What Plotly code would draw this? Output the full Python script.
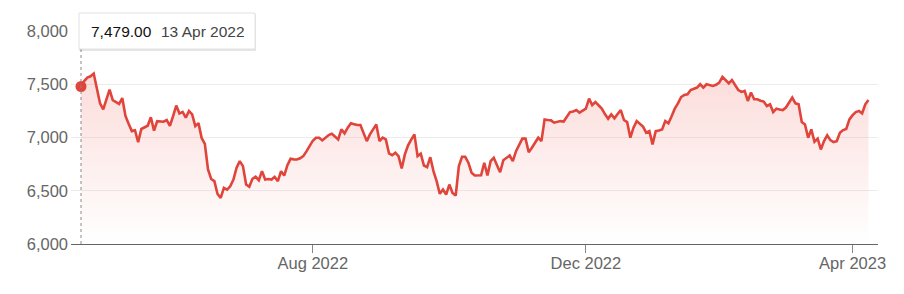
import pandas as pd
import plotly.graph_objects as go

# ---- data ----
start_date = "2022-04-13"
end_date = "2023-04-12"
uk_holidays = ["2022-04-15", "2022-04-18", "2022-05-02", "2022-06-02", "2022-06-03",
               "2022-08-29", "2022-09-19", "2022-12-26", "2022-12-27", "2023-01-02",
               "2023-04-07", "2023-04-10"]

values = [
    7479, 7530, 7563, 7575, 7600, 7450, 7320, 7265, 7350, 7450,
    7350, 7330, 7315, 7370, 7202, 7130, 7060, 7068, 6955, 7080,
    7095, 7110, 7190, 7065, 7154, 7154, 7148, 7164, 7110, 7200,
    7300, 7225, 7240, 7186, 7249, 7217, 7107, 7135, 6995, 6940,
    6700, 6610, 6590, 6470, 6433, 6527, 6511, 6542, 6605, 6716,
    6778, 6731, 6558, 6537, 6612, 6631, 6599, 6684, 6605, 6610,
    6605, 6631, 6590, 6684, 6643, 6740, 6800, 6795, 6794, 6805,
    6825, 6870, 6919, 6970, 6998, 6998, 6973, 7000, 7023, 7036,
    7010, 6982, 7076, 7039, 7092, 7133, 7125, 7117, 7117, 7040,
    6966, 7029, 7080, 7123, 6966, 6998, 6982, 6850, 6834, 6857,
    6825, 6709, 6841, 6926, 6980, 7029, 6825, 6848, 6737, 6721,
    6815, 6684, 6590, 6471, 6511, 6464, 6558, 6480, 6455, 6731,
    6819, 6819, 6763, 6669, 6643, 6643, 6645, 6763, 6643, 6778,
    6810, 6740, 6674, 6787, 6810, 6831, 6778, 6872, 6930, 6989,
    6989, 6862, 6904, 6957, 6998, 6966, 7170, 7165, 7161, 7139,
    7150, 7154, 7150, 7190, 7239, 7245, 7258, 7233, 7250, 7271,
    7365, 7305, 7333, 7300, 7271, 7220, 7177, 7217, 7180, 7220,
    7258, 7164, 7145, 6998, 7092, 7154, 7130, 7102, 7045, 7060,
    6935, 7060, 7065, 7076, 7154, 7133, 7200, 7271, 7320, 7380,
    7400, 7406, 7446, 7455, 7469, 7500, 7469, 7500, 7490, 7484,
    7495, 7516, 7569, 7540, 7509, 7540, 7490, 7446, 7428, 7437,
    7343, 7422, 7359, 7359, 7345, 7337, 7296, 7312, 7239, 7271,
    7262, 7258, 7281, 7333, 7375, 7321, 7312, 7145, 7123, 6998,
    7076, 6960, 6989, 6888, 6966, 7020, 6975, 6957, 6966, 7045,
    7070, 7080, 7170, 7210, 7239, 7249, 7227, 7312, 7352,
]

x_tick_dates = ["2022-08-01", "2022-12-01", "2023-04-03"]
x_tick_labels = ["Aug 2022", "Dec 2022", "Apr 2023"]
y_tick_values = [6000, 6500, 7000, 7500, 8000]
y_tick_labels = ["6,000", "6,500", "7,000", "7,500", "8,000"]

highlight_index = 0
highlight_value_text = "7,479.00"
highlight_date_text = "13 Apr 2022"

# ---- build ----
dates = pd.bdate_range(start_date, end_date, freq="C", holidays=uk_holidays)[: len(values)]
idx = list(range(len(values)))
tick_pos = [int((dates >= pd.Timestamp(d)).argmax()) for d in x_tick_dates]

LINE = "#e0443a"
FONT = "Liberation Sans, Arial, Helvetica, sans-serif"

fig = go.Figure()
fig.add_trace(go.Scatter(
    x=idx, y=values, mode="lines",
    line=dict(color=LINE, width=2.6),
    fill="tozeroy",
    fillgradient=dict(type="vertical", start=6000, stop=7600,
                      colorscale=[[0, "rgba(235,90,80,0.0)"],
                                  [1, "rgba(235,90,80,0.21)"]]),
    hoverinfo="skip",
))
fig.add_trace(go.Scatter(
    x=[idx[highlight_index]], y=[values[highlight_index]], mode="markers",
    marker=dict(color=LINE, size=11, line=dict(width=0)),
    hoverinfo="skip",
))

L, R, T, B = 71, 26, 31, 50
W, H = 904, 294
pw, ph = W - L - R, H - T - B


def px_x(p):
    return (p - L) / pw


def px_y(p):
    return (H - B - p) / ph


# dotted guide line
fig.add_shape(type="line", xref="x", yref="paper",
              x0=idx[highlight_index], x1=idx[highlight_index],
              y0=0, y1=px_y(49),
              line=dict(color="#8a8a8a", width=1, dash="dot"))
# tooltip shadow + box
fig.add_shape(type="rect", xref="paper", yref="paper",
              x0=px_x(79), x1=px_x(256), y0=px_y(51), y1=px_y(14),
              fillcolor="rgba(0,0,0,0.10)", line=dict(width=0), layer="above")
fig.add_shape(type="rect", xref="paper", yref="paper",
              x0=px_x(79), x1=px_x(255), y0=px_y(49), y1=px_y(13),
              fillcolor="white", line=dict(color="#e2e2e2", width=1), layer="above")
fig.add_annotation(xref="paper", yref="paper", x=px_x(89), y=px_y(31),
                   xanchor="left", yanchor="middle", showarrow=False,
                   text=highlight_value_text,
                   font=dict(family=FONT, size=15.5, color="#111111"))
fig.add_annotation(xref="paper", yref="paper", x=px_x(159), y=px_y(31),
                   xanchor="left", yanchor="middle", showarrow=False,
                   text=highlight_date_text,
                   font=dict(family=FONT, size=15.5, color="#444444"))

fig.update_layout(
    width=W, height=H,
    margin=dict(l=L, r=R, t=T, b=B, pad=0),
    paper_bgcolor="white", plot_bgcolor="white",
    showlegend=False, hovermode=False,
    font=dict(family=FONT, size=16, color="#666666"),
    xaxis=dict(
        range=[-3.15, 251], tickmode="array", tickvals=tick_pos, ticktext=x_tick_labels,
        showgrid=False, zeroline=False, showline=True, linecolor="#666666", linewidth=1,
        ticks="outside", ticklen=8, tickcolor="#888888", tickwidth=1,
        ticklabelstandoff=-4,
        tickfont=dict(family=FONT, size=16.5, color="#666666"),
    ),
    yaxis=dict(
        range=[6000, 8000], tickmode="array", tickvals=y_tick_values, ticktext=y_tick_labels,
        showgrid=True, gridcolor="#ececec", gridwidth=1, zeroline=False, showline=False,
        ticks="", ticklabelstandoff=2,
        tickfont=dict(family=FONT, size=16.5, color="#666666"),
    ),
)

fig.write_html("out.html")
